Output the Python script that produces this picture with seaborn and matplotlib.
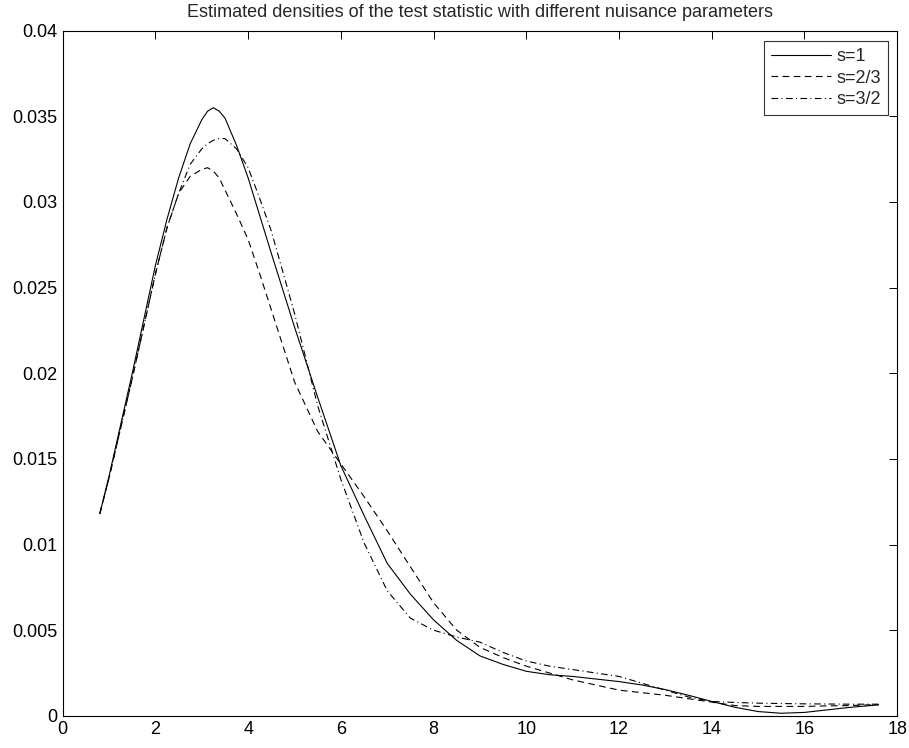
import numpy as np
import pandas as pd
import matplotlib
matplotlib.use("Agg")
import matplotlib.pyplot as plt
import seaborn as sb

x_grid = [0.8, 1.0, 1.5, 2.0, 2.25, 2.5, 2.75, 3.0, 3.125, 3.25, 3.375, 3.5, 3.75, 4.0, 4.25,
          4.5, 5.0, 5.5, 6.0, 6.5, 7.0, 7.5, 8.0, 8.5, 9.0, 9.5, 10.0, 10.5, 11.0, 12.0,
          12.5, 13.0, 13.5, 14.0, 14.5, 15.0, 15.5, 16.0, 16.5, 17.0, 17.6]

dens_s1 = [0.0118, 0.0140, 0.0200, 0.0263, 0.0290, 0.0314, 0.0334, 0.0348, 0.0353, 0.0355,
           0.0353, 0.0349, 0.0333, 0.0314, 0.0292, 0.0270, 0.0227, 0.0186, 0.0146, 0.0117,
           0.0089, 0.0071, 0.0056, 0.0044, 0.0035, 0.0030, 0.0026, 0.0024, 0.0023, 0.0020,
           0.0018, 0.00153, 0.0012, 0.00084, 0.0005, 0.00025, 0.00015, 0.0002, 0.00035,
           0.0005, 0.00064]

dens_s23 = [0.0118, 0.0139, 0.0197, 0.0258, 0.0285, 0.0305, 0.0315, 0.0319, 0.0320, 0.0318,
            0.0314, 0.0307, 0.0293, 0.0278, 0.0258, 0.0237, 0.0195, 0.0166, 0.0147, 0.0128,
            0.0108, 0.0087, 0.0066, 0.0050, 0.0040, 0.0034, 0.0029, 0.0025, 0.0021, 0.0015,
            0.00135, 0.0012, 0.0010, 0.0008, 0.0006, 0.00055, 0.00055, 0.00055, 0.00058,
            0.0006, 0.00066]

dens_s32 = [0.0118, 0.0139, 0.0197, 0.0258, 0.0285, 0.0305, 0.0322, 0.0331, 0.0334, 0.0336,
            0.0337, 0.0337, 0.0331, 0.0320, 0.0302, 0.0283, 0.0235, 0.0181, 0.0138, 0.0101,
            0.0073, 0.0057, 0.0050, 0.0046, 0.0043, 0.0037, 0.0032, 0.0029, 0.0027, 0.0023,
            0.0019, 0.0015, 0.0011, 0.00084, 0.00078, 0.00074, 0.00072, 0.0007, 0.00069,
            0.00068, 0.00068]

labels = ["s=1", "s=2/3", "s=3/2"]

df = pd.concat([
    pd.DataFrame({"x": x_grid, "density": d, "s": lab})
    for d, lab in zip([dens_s1, dens_s23, dens_s32], labels)
], ignore_index=True)

sb.set_style("white")
plt.rcParams['font.family'] = ['Liberation Sans', 'DejaVu Sans']
plt.rcParams['xtick.direction'] = 'in'
plt.rcParams['ytick.direction'] = 'in'

fig = plt.figure(figsize=(9.09, 7.48), dpi=100)
ax = fig.add_axes([0.069, 0.043, 0.918, 0.916])

dashes = {"s=1": "", "s=2/3": (6, 4), "s=3/2": (6, 3, 1, 3)}
sb.lineplot(data=df, x="x", y="density", style="s", dashes=dashes,
            color="black", linewidth=0.8, ax=ax, sort=False)

ax.set_xlim(0, 18)
ax.set_ylim(0, 0.04)
ax.set_xticks(np.arange(0, 19, 2))
ax.set_yticks(np.arange(0, 0.0401, 0.005))
ax.set_yticklabels(["0", "0.005", "0.01", "0.015", "0.02", "0.025", "0.03", "0.035", "0.04"])
ax.set_xlabel("")
ax.set_ylabel("")
ax.tick_params(axis="both", which="both", top=True, right=True, length=6, width=0.7,
               labelsize=13, colors="black", pad=4)
for sp in ax.spines.values():
    sp.set_visible(True)
    sp.set_color("black")
    sp.set_linewidth(0.8)

ax.set_title("Estimated densities of the test statistic with different nuisance parameters",
             fontsize=13, pad=10)

leg = ax.legend(loc="upper right", bbox_to_anchor=(0.989, 0.985), borderaxespad=0,
                frameon=True, fancybox=False, edgecolor="black", fontsize=13,
                handlelength=3.3, handletextpad=0.3, labelspacing=0.25, borderpad=0.4)
leg.get_frame().set_linewidth(0.8)

fig.savefig("out.png", dpi=100)
